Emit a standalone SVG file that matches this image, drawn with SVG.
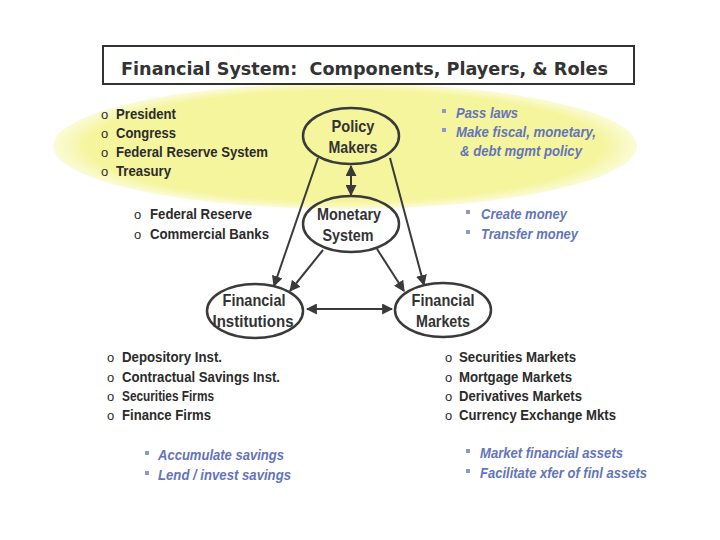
<svg xmlns="http://www.w3.org/2000/svg" width="720" height="540" viewBox="0 0 720 540">
<defs>
<style>
.t{font-family:"Liberation Sans Narrow","Arial Narrow","Liberation Sans",sans-serif;font-weight:bold;font-size:15.5px;fill:#2b2b2b}
.n{font-family:"Liberation Sans Narrow","Arial Narrow","Liberation Sans",sans-serif;font-weight:bold;font-size:17px;fill:#333;text-anchor:middle}
.b{font-family:"Liberation Sans Narrow","Arial Narrow","Liberation Sans",sans-serif;font-weight:bold;font-style:italic;font-size:15.5px;fill:#6474b8}
.sq{fill:#8a98cc}
.o{font-family:"Liberation Sans","Arial",sans-serif;font-size:13px;fill:#2b2b2b}
.node{fill:none;stroke:#3a3a3a;stroke-width:2.5}
.c{stroke:#3a3a3a;stroke-width:2;fill:none}
</style>
<radialGradient id="yg" cx="0.5" cy="0.5" r="0.5">
<stop offset="0.88" stop-color="#f5f59e"/>
<stop offset="1" stop-color="#f5f59e" stop-opacity="0.4"/>
</radialGradient>
<marker id="ah" viewBox="0 0 10 10" refX="9" refY="5" markerWidth="5.5" markerHeight="5.5" orient="auto-start-reverse">
<path d="M0,0 L10,5 L0,10 z" fill="#3a3a3a"/>
</marker>
</defs>
<rect width="720" height="540" fill="#ffffff"/>
<ellipse cx="345" cy="146" rx="292" ry="63" fill="url(#yg)"/>
<g id="title">
<rect x="103" y="46" width="531" height="38" fill="#fff" stroke="#333" stroke-width="2"/>
<text x="121" y="75" font-family="DejaVu Sans,Verdana,sans-serif" font-weight="bold" font-size="17" fill="#333" textLength="487" lengthAdjust="spacingAndGlyphs" xml:space="preserve">Financial System:  Components, Players, &amp; Roles</text>
</g>
<g id="connectors">
<line class="c" x1="351" y1="166" x2="351" y2="195" marker-start="url(#ah)" marker-end="url(#ah)"/>
<line class="c" x1="318" y1="158" x2="274" y2="286" marker-end="url(#ah)"/>
<line class="c" x1="390" y1="158" x2="424" y2="285" marker-end="url(#ah)"/>
<line class="c" x1="323" y1="250" x2="290" y2="291" marker-end="url(#ah)"/>
<line class="c" x1="377" y1="249" x2="404" y2="291" marker-end="url(#ah)"/>
<line class="c" x1="307" y1="309" x2="392" y2="309" marker-start="url(#ah)" marker-end="url(#ah)"/>
</g>
<g id="policy-makers">
<ellipse class="node" cx="351" cy="136" rx="48" ry="28"/>
<text class="n" x="353" y="132" textLength="43" lengthAdjust="spacingAndGlyphs">Policy</text>
<text class="n" x="353" y="153" textLength="49" lengthAdjust="spacingAndGlyphs">Makers</text>
</g>
<g id="monetary-system">
<ellipse class="node" cx="351" cy="224" rx="48" ry="28"/>
<text class="n" x="349" y="220" textLength="64" lengthAdjust="spacingAndGlyphs">Monetary</text>
<text class="n" x="348" y="241" textLength="51" lengthAdjust="spacingAndGlyphs">System</text>
</g>
<g id="financial-institutions">
<ellipse class="node" cx="255" cy="311" rx="48" ry="27"/>
<text class="n" x="254" y="306" textLength="63" lengthAdjust="spacingAndGlyphs">Financial</text>
<text class="n" x="253" y="327" textLength="81" lengthAdjust="spacingAndGlyphs">Institutions</text>
</g>
<g id="financial-markets">
<ellipse class="node" cx="443" cy="310" rx="48" ry="27"/>
<text class="n" x="443" y="306" textLength="63" lengthAdjust="spacingAndGlyphs">Financial</text>
<text class="n" x="443" y="327" textLength="54" lengthAdjust="spacingAndGlyphs">Markets</text>
</g>
<g id="policy-players">
<text class="o" x="101" y="119">o</text><text class="t" x="116" y="119" textLength="60" lengthAdjust="spacingAndGlyphs">President</text>
<text class="o" x="101" y="138">o</text><text class="t" x="116" y="138" textLength="60" lengthAdjust="spacingAndGlyphs">Congress</text>
<text class="o" x="101" y="157">o</text><text class="t" x="116" y="157" textLength="152" lengthAdjust="spacingAndGlyphs">Federal Reserve System</text>
<text class="o" x="101" y="176">o</text><text class="t" x="116" y="176" textLength="55" lengthAdjust="spacingAndGlyphs">Treasury</text>
</g>
<g id="policy-roles">
<rect class="sq" x="442" y="109" width="4" height="4"/><text class="b" x="456" y="118" textLength="62" lengthAdjust="spacingAndGlyphs">Pass laws</text>
<rect class="sq" x="442" y="128" width="4" height="4"/><text class="b" x="456" y="137" textLength="140" lengthAdjust="spacingAndGlyphs">Make fiscal, monetary,</text>
<text class="b" x="460" y="156" textLength="122" lengthAdjust="spacingAndGlyphs">&amp; debt mgmt policy</text>
</g>
<g id="monetary-players">
<text class="o" x="134" y="219">o</text><text class="t" x="150" y="219" textLength="102" lengthAdjust="spacingAndGlyphs">Federal Reserve</text>
<text class="o" x="134" y="239">o</text><text class="t" x="150" y="239" textLength="119" lengthAdjust="spacingAndGlyphs">Commercial Banks</text>
</g>
<g id="monetary-roles">
<rect class="sq" x="466" y="210" width="4" height="4"/><text class="b" x="481" y="219" textLength="86" lengthAdjust="spacingAndGlyphs">Create money</text>
<rect class="sq" x="466" y="230" width="4" height="4"/><text class="b" x="481" y="239" textLength="97" lengthAdjust="spacingAndGlyphs">Transfer money</text>
</g>
<g id="institution-players">
<text class="o" x="107" y="362">o</text><text class="t" x="122" y="362" textLength="100" lengthAdjust="spacingAndGlyphs">Depository Inst.</text>
<text class="o" x="107" y="382">o</text><text class="t" x="122" y="382" textLength="158" lengthAdjust="spacingAndGlyphs">Contractual Savings Inst.</text>
<text class="o" x="107" y="401">o</text><text class="t" x="122" y="401" textLength="92" lengthAdjust="spacingAndGlyphs">Securities Firms</text>
<text class="o" x="107" y="420">o</text><text class="t" x="122" y="420" textLength="89" lengthAdjust="spacingAndGlyphs">Finance Firms</text>
</g>
<g id="institution-roles">
<rect class="sq" x="145" y="451" width="4" height="4"/><text class="b" x="158" y="460" textLength="126" lengthAdjust="spacingAndGlyphs">Accumulate savings</text>
<rect class="sq" x="145" y="471" width="4" height="4"/><text class="b" x="158" y="480" textLength="133" lengthAdjust="spacingAndGlyphs">Lend / invest savings</text>
</g>
<g id="market-players">
<text class="o" x="445" y="362">o</text><text class="t" x="459" y="362" textLength="117" lengthAdjust="spacingAndGlyphs">Securities Markets</text>
<text class="o" x="445" y="382">o</text><text class="t" x="459" y="382" textLength="113" lengthAdjust="spacingAndGlyphs">Mortgage Markets</text>
<text class="o" x="445" y="401">o</text><text class="t" x="459" y="401" textLength="123" lengthAdjust="spacingAndGlyphs">Derivatives Markets</text>
<text class="o" x="445" y="420">o</text><text class="t" x="459" y="420" textLength="157" lengthAdjust="spacingAndGlyphs">Currency Exchange Mkts</text>
</g>
<g id="market-roles">
<rect class="sq" x="466" y="449" width="4" height="4"/><text class="b" x="480" y="458" textLength="143" lengthAdjust="spacingAndGlyphs">Market financial assets</text>
<rect class="sq" x="466" y="469" width="4" height="4"/><text class="b" x="480" y="478" textLength="167" lengthAdjust="spacingAndGlyphs">Facilitate xfer of finl assets</text>
</g>
</svg>
